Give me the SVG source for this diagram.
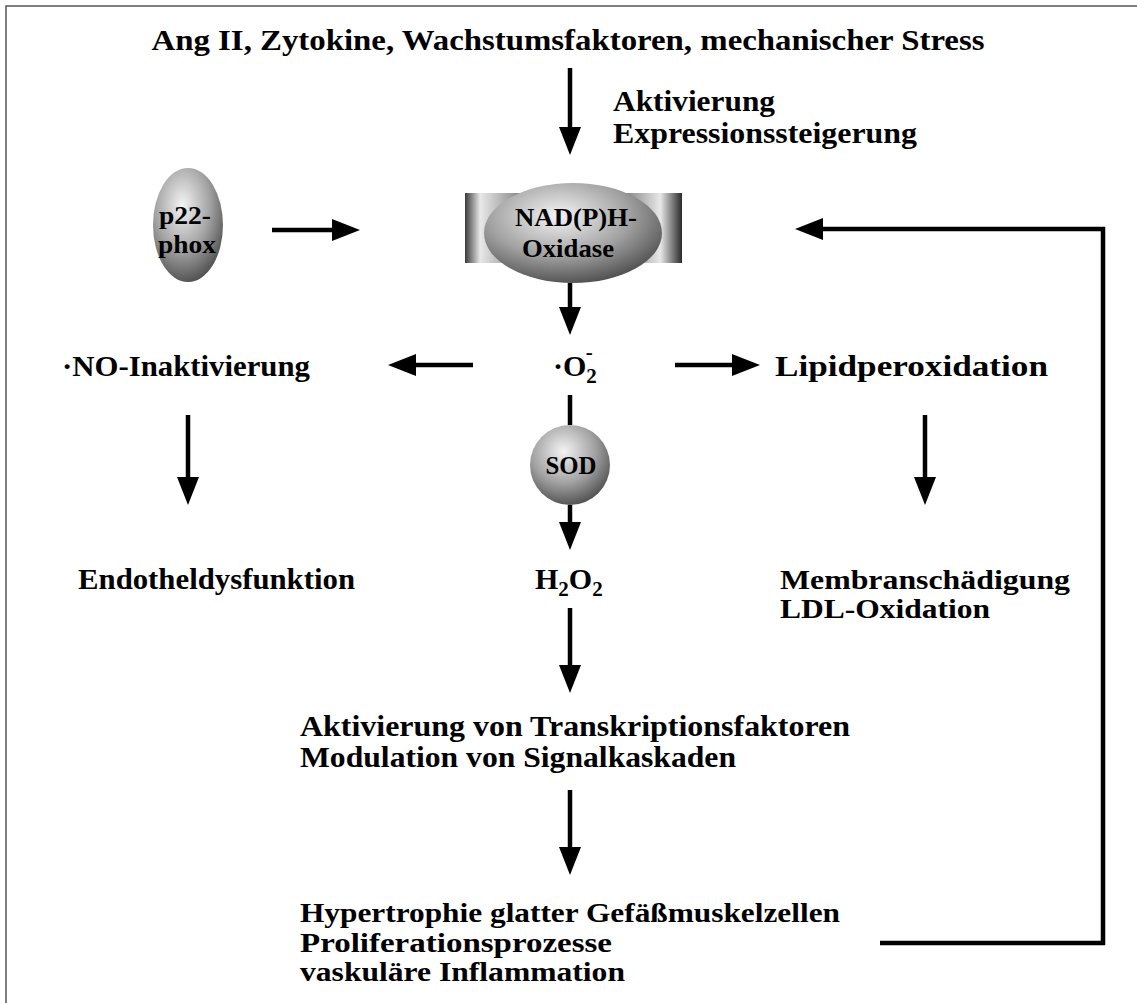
<svg xmlns="http://www.w3.org/2000/svg" width="1137" height="1003" viewBox="0 0 1137 1003">
<style>
.t{font-family:"Liberation Serif","Times New Roman",serif;font-weight:bold;font-size:30px;fill:#000}
.m{font-size:28px}
.n{font-family:"Liberation Serif","Times New Roman",serif;font-weight:bold;font-size:26px;fill:#000;text-anchor:middle}
.c{stroke:#000;stroke-width:4.5;fill:none}
</style>
<defs>
<marker id="ah" markerUnits="userSpaceOnUse" markerWidth="28" markerHeight="22" viewBox="0 0 28 22" refX="1" refY="11" orient="auto">
<path d="M0,0 L28,11 L0,22 z" fill="#000"/>
</marker>
<radialGradient id="sph" cx="0.42" cy="0.33" r="0.72">
<stop offset="0" stop-color="#f4f4f4"/>
<stop offset="0.55" stop-color="#a2a2a2"/>
<stop offset="1" stop-color="#484848"/>
</radialGradient>
<linearGradient id="bar" x1="0" y1="0" x2="1" y2="0">
<stop offset="0" stop-color="#3a3a3a"/>
<stop offset="0.07" stop-color="#e8e8e8"/>
<stop offset="0.25" stop-color="#8a8a8a"/>
<stop offset="0.75" stop-color="#8a8a8a"/>
<stop offset="0.9" stop-color="#e8e8e8"/>
<stop offset="1" stop-color="#2a2a2a"/>
</linearGradient>
</defs>
<rect width="1137" height="1003" fill="#fff"/>
<path d="M6,1003 V6 H1137" stroke="#555" stroke-width="1.5" fill="none"/>

<g id="title"><text class="t" x="568" y="50" text-anchor="middle" textLength="833" lengthAdjust="spacingAndGlyphs">Ang II, Zytokine, Wachstumsfaktoren, mechanischer Stress</text></g>
<g id="aktivierung"><text class="t" x="613" y="111" textLength="162" lengthAdjust="spacingAndGlyphs">Aktivierung</text><text class="t" x="613" y="143" textLength="304" lengthAdjust="spacingAndGlyphs">Expressionssteigerung</text></g>

<g id="p22phox">
<ellipse cx="188" cy="225" rx="35" ry="57" fill="url(#sph)"/>
<text class="n" x="185" y="224" textLength="52" lengthAdjust="spacingAndGlyphs">p22-</text>
<text class="n" x="187" y="253" textLength="58" lengthAdjust="spacingAndGlyphs">phox</text>
</g>

<g id="nadph">
<rect x="465" y="193" width="217" height="70" fill="url(#bar)"/>
<ellipse cx="573" cy="233" rx="89" ry="50" fill="url(#sph)"/>
<text class="n" x="576" y="226" textLength="122" lengthAdjust="spacingAndGlyphs">NAD(P)H-</text>
<text class="n" x="568" y="257" textLength="92" lengthAdjust="spacingAndGlyphs">Oxidase</text>
</g>

<g id="o2"><text class="t" x="553" y="376">·O<tspan font-size="21" dy="7">2</tspan><tspan font-size="21" dx="-11" dy="-24">-</tspan></text></g>
<g id="no"><text class="t" x="62" y="376" textLength="248" lengthAdjust="spacingAndGlyphs">·NO-Inaktivierung</text></g>
<g id="lipid"><text class="t" x="775" y="376" textLength="273" lengthAdjust="spacingAndGlyphs">Lipidperoxidation</text></g>

<g id="sod">
<circle cx="570" cy="465" r="40" fill="url(#sph)"/>
<text class="n" x="571" y="474" font-size="24" textLength="51" lengthAdjust="spacingAndGlyphs">SOD</text>
</g>

<g id="endo"><text class="t" x="78" y="589" textLength="277" lengthAdjust="spacingAndGlyphs">Endotheldysfunktion</text></g>
<g id="h2o2"><text class="t" x="535" y="589">H<tspan font-size="21" dy="7">2</tspan><tspan dy="-7">O</tspan><tspan font-size="21" dy="7">2</tspan></text></g>
<g id="membran"><text class="t m" x="780" y="589" textLength="290" lengthAdjust="spacingAndGlyphs">Membranschädigung</text><text class="t m" x="780" y="618" textLength="210" lengthAdjust="spacingAndGlyphs">LDL-Oxidation</text></g>

<g id="transkription"><text class="t" x="300" y="736" textLength="550" lengthAdjust="spacingAndGlyphs">Aktivierung von Transkriptionsfaktoren</text><text class="t" x="300" y="767" textLength="436" lengthAdjust="spacingAndGlyphs">Modulation von Signalkaskaden</text></g>

<g id="hypertrophie"><text class="t m" x="300" y="922" textLength="540" lengthAdjust="spacingAndGlyphs">Hypertrophie glatter Gefäßmuskelzellen</text><text class="t m" x="300" y="952" textLength="312" lengthAdjust="spacingAndGlyphs">Proliferationsprozesse</text><text class="t m" x="300" y="981" textLength="325" lengthAdjust="spacingAndGlyphs">vaskuläre Inflammation</text></g>

<g id="connectors">
<path class="c" d="M570,68 V128" marker-end="url(#ah)"/>
<path class="c" d="M272,230 H333" marker-end="url(#ah)"/>
<path class="c" d="M570,283 V308" marker-end="url(#ah)"/>
<path class="c" d="M473,365 H415" marker-end="url(#ah)"/>
<path class="c" d="M675,365 H733" marker-end="url(#ah)"/>
<path class="c" d="M570,395 V425"/>
<path class="c" d="M570,505 V523" marker-end="url(#ah)"/>
<path class="c" d="M188,415 V478" marker-end="url(#ah)"/>
<path class="c" d="M925,415 V478" marker-end="url(#ah)"/>
<path class="c" d="M570,608 V666" marker-end="url(#ah)"/>
<path class="c" d="M570,790 V848" marker-end="url(#ah)"/>
<path class="c" d="M880,943 H1103 V229 H822" stroke-linejoin="miter" marker-end="url(#ah)"/>
</g>
</svg>
